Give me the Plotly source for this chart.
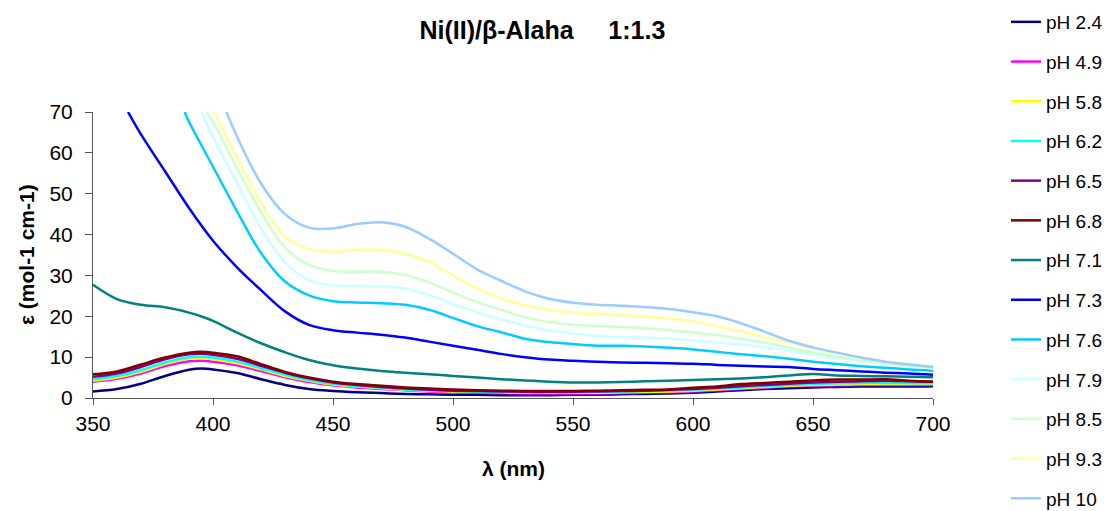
import plotly.graph_objects as go

# Common wavelength grid (nm) for the low / full-range series
wl = [350, 360, 370, 380, 390, 395, 400, 410, 420, 430, 440, 450, 460, 470, 480, 490,
      500, 510, 520, 530, 540, 550, 560, 570, 580, 590, 600, 610, 620, 630, 640, 650,
      660, 670, 680, 690, 700]

ph24 = [1.6, 2.2, 3.5, 5.4, 6.9, 7.2, 7.0, 6.1, 4.6, 3.2, 2.2, 1.7, 1.4, 1.2, 1.0, 0.9,
        0.8, 0.8, 0.7, 0.7, 0.7, 0.8, 0.8, 0.9, 1.0, 1.1, 1.3, 1.6, 1.9, 2.2, 2.4, 2.6,
        2.7, 2.8, 2.8, 2.8, 2.9]
ph49 = [4.0, 4.7, 6.0, 7.8, 9.0, 9.1, 8.9, 8.0, 6.6, 5.1, 3.9, 3.1, 2.6, 2.2, 1.9, 1.6,
        1.4, 1.3, 1.2, 1.1, 1.1, 1.1, 1.1, 1.2, 1.3, 1.4, 1.6, 1.9, 2.2, 2.5, 2.8, 3.0,
        3.1, 3.2, 3.2, 3.2, 3.2]
ph58 = [4.3, 5.0, 6.4, 8.3, 9.6, 9.7, 9.5, 8.5, 7.0, 5.4, 4.2, 3.3, 2.8, 2.4, 2.0, 1.8,
        1.6, 1.5, 1.4, 1.3, 1.3, 1.3, 1.3, 1.4, 1.5, 1.6, 1.8, 2.1, 2.4, 2.7, 3.0, 3.2,
        3.3, 3.4, 3.4, 3.4, 3.4]
ph62 = [4.6, 5.4, 6.8, 8.7, 10.0, 10.1, 9.9, 8.9, 7.3, 5.7, 4.4, 3.5, 2.9, 2.5, 2.1, 1.9,
        1.7, 1.6, 1.5, 1.4, 1.4, 1.4, 1.5, 1.6, 1.7, 1.8, 2.0, 2.3, 2.6, 2.9, 3.2, 3.4,
        3.6, 3.7, 3.7, 3.6, 3.6]
ph65 = [5.2, 6.0, 7.6, 9.5, 10.7, 10.8, 10.6, 9.6, 7.9, 6.2, 4.8, 3.8, 3.2, 2.7, 2.3, 2.0,
        1.8, 1.7, 1.6, 1.5, 1.5, 1.5, 1.6, 1.7, 1.8, 2.0, 2.2, 2.5, 2.9, 3.2, 3.5, 3.8,
        4.0, 4.1, 4.2, 4.1, 4.0]
ph68 = [5.8, 6.5, 8.2, 9.9, 11.1, 11.3, 11.1, 10.2, 8.3, 6.4, 5.0, 4.0, 3.4, 3.0, 2.6, 2.3,
        2.1, 1.9, 1.8, 1.7, 1.7, 1.7, 1.8, 1.9, 2.0, 2.1, 2.5, 2.8, 3.4, 3.7, 4.0, 4.3,
        4.5, 4.5, 4.6, 4.2, 4.0]
ph71 = [27.7, 24.2, 22.8, 22.2, 20.9, 20.0, 18.9, 16.0, 13.4, 11.2, 9.3, 8.0, 7.2, 6.6, 6.2, 5.8,
        5.4, 5.0, 4.6, 4.3, 4.0, 3.8, 3.8, 3.9, 4.1, 4.2, 4.4, 4.6, 4.8, 5.1, 5.5, 5.9,
        5.5, 5.4, 5.3, 5.2, 5.1]

# Series that leave the top of the chart: own wavelength lists starting where they enter
wl73 = [364.6, 370, 380, 390, 400, 410, 420, 430, 440, 450, 460, 470, 480, 490,
        500, 510, 520, 530, 540, 550, 560, 570, 580, 590, 600, 610, 620, 630, 640, 650,
        660, 670, 680, 690, 700]
ph73 = [70, 64.5, 55.5, 46.5, 38.5, 32.0, 26.4, 21.2, 17.9, 16.6, 16.0, 15.5, 14.8, 13.8,
        12.8, 11.8, 10.8, 10.0, 9.4, 9.1, 8.9, 8.7, 8.6, 8.5, 8.4, 8.1, 7.9, 7.7, 7.6, 7.1,
        6.8, 6.5, 6.2, 6.0, 5.7]

wl76 = [388.2, 390, 400, 410, 420, 430, 440, 450, 460, 470, 480, 490,
        500, 510, 520, 530, 540, 550, 560, 570, 580, 590, 600, 610, 620, 630, 640, 650,
        660, 670, 680, 690, 700]
ph76 = [70, 67.6, 56.6, 45.7, 35.5, 28.5, 25.1, 23.7, 23.4, 23.2, 22.8, 21.6,
        19.6, 17.6, 16.1, 14.5, 13.7, 13.2, 12.8, 12.8, 12.6, 12.3, 11.9, 11.3, 10.7, 10.2, 9.6, 8.9,
        8.3, 7.8, 7.4, 7.0, 6.7]

wl79 = [395.2, 400, 410, 420, 430, 440, 450, 460, 470, 480, 490,
        500, 510, 520, 530, 540, 550, 560, 570, 580, 590, 600, 610, 620, 630, 640, 650,
        660, 670, 680, 690, 700]
ph79 = [70, 63.9, 52.6, 41.5, 33.2, 28.9, 27.6, 27.4, 27.3, 26.8, 25.2,
        23.0, 21.0, 19.2, 17.8, 16.5, 15.8, 15.2, 14.9, 14.8, 14.6, 14.1, 13.6, 13.1, 12.4, 11.6, 10.6,
        9.7, 9.0, 8.4, 7.8, 7.2]

wl85 = [397.2, 400, 410, 420, 430, 440, 450, 460, 470, 480, 490,
        500, 510, 520, 530, 540, 550, 560, 570, 580, 590, 600, 610, 620, 630, 640, 650,
        660, 670, 680, 690, 700]
ph85 = [70, 67.5, 56.3, 45.5, 36.8, 32.6, 31.1, 30.9, 30.9, 30.1, 28.3,
        25.8, 23.5, 21.6, 19.8, 18.6, 17.9, 17.6, 17.4, 17.1, 16.6, 16.0, 15.4, 14.5, 13.5, 12.3, 11.1,
        10.1, 9.3, 8.6, 8.0, 7.5]

wl93 = [400.7, 410, 420, 430, 440, 450, 460, 470, 480, 490,
        500, 510, 520, 530, 540, 550, 560, 570, 580, 590, 600, 610, 620, 630, 640, 650,
        660, 670, 680, 690, 700]
ph93 = [70, 58.8, 47.8, 39.5, 36.5, 35.8, 36.3, 36.2, 35.3, 33.3,
        30.0, 26.8, 24.4, 22.7, 21.6, 20.9, 20.6, 20.3, 19.9, 19.4, 18.8, 17.5, 16.3, 14.9, 13.6, 12.2,
        11.0, 9.9, 8.9, 8.3, 7.8]

wl100 = [405.6, 410, 420, 430, 440, 450, 460, 470, 480, 490,
         500, 510, 520, 530, 540, 550, 560, 570, 580, 590, 600, 610, 620, 630, 640, 650,
         660, 670, 680, 690, 700]
ph100 = [70, 64.0, 52.5, 45.0, 41.7, 41.5, 42.6, 43.0, 41.9, 39.0,
         35.3, 31.5, 28.7, 26.1, 24.3, 23.3, 22.8, 22.6, 22.3, 21.8, 21.0, 20.0, 18.3, 16.2, 14.0, 12.4,
         11.1, 9.9, 8.9, 8.2, 7.6]

names = ["pH 2.4", "pH 4.9", "pH 5.8", "pH 6.2", "pH 6.5", "pH 6.8", "pH 7.1",
         "pH 7.3", "pH 7.6", "pH 7.9", "pH 8.5", "pH 9.3", "pH 10"]
xs = [wl, wl, wl, wl, wl, wl, wl, wl73, wl76, wl79, wl85, wl93, wl100]
ys = [ph24, ph49, ph58, ph62, ph65, ph68, ph71, ph73, ph76, ph79, ph85, ph93, ph100]
colors = ["#000080", "#FF00FF", "#FFFF00", "#00FFFF", "#800080", "#800000", "#008080",
          "#0000FF", "#00CCFF", "#CCFFFF", "#CCFFCC", "#FFFF99", "#99CCFF"]

FONT = "Liberation Sans, Arial, sans-serif"

fig = go.Figure()
for n, x, y, c in zip(names, xs, ys, colors):
    fig.add_trace(go.Scatter(x=x, y=y, name=n, mode="lines", legendgroup=n,
                             line=dict(color=c, width=2.5, shape="spline", smoothing=1.0)))

axis_col = "#555555"
fig.update_layout(
    width=1107, height=511,
    margin=dict(l=93, r=174, t=112, b=113),
    paper_bgcolor="white", plot_bgcolor="white",
    font=dict(family=FONT, color="black", size=20),
    title=dict(text="<b>Ni(II)/β-Alaha\u00a0\u00a0\u00a0\u00a0\u00a01:1.3</b>",
               x=0.49, xref="container", xanchor="center",
               y=1 - 30 / 511, yref="container", yanchor="middle",
               font=dict(family=FONT, size=25, color="black")),
    xaxis=dict(range=[350, 700], tickvals=[350, 400, 450, 500, 550, 600, 650, 700],
               showgrid=False, zeroline=False, showline=True, linecolor=axis_col, linewidth=1,
               ticks="outside", ticklen=6, tickcolor=axis_col,
               tickfont=dict(family=FONT, size=21, color="black"), ticklabelstandoff=1),
    yaxis=dict(range=[0, 70], tickvals=[0, 10, 20, 30, 40, 50, 60, 70],
               showgrid=False, zeroline=False, showline=True, linecolor=axis_col, linewidth=1,
               ticks="outside", ticklen=7, tickcolor=axis_col,
               tickfont=dict(family=FONT, size=21, color="black"), ticklabelstandoff=8),
    legend=dict(x=1006 / 1107, xref="container", xanchor="left",
                y=1 - 3 / 511, yref="container", yanchor="top",
                traceorder="grouped", tracegroupgap=12, maxheight=511,
                font=dict(family=FONT, size=19, color="black"),
                bgcolor="rgba(0,0,0,0)", borderwidth=0),
    showlegend=True,
    annotations=[
        dict(text="<b>λ (nm)</b>", x=0.5, xref="paper", y=-(468 - 398) / 286, yref="paper",
             xanchor="center", yanchor="middle", showarrow=False,
             font=dict(family=FONT, size=21, color="black")),
        dict(text="<b>ε (mol-1 cm-1)</b>", x=(26 - 93) / 840, xref="paper", y=0.5, yref="paper",
             xanchor="center", yanchor="middle", textangle=-90, showarrow=False,
             font=dict(family=FONT, size=21, color="black")),
    ],
)

fig.write_html("out.html")
